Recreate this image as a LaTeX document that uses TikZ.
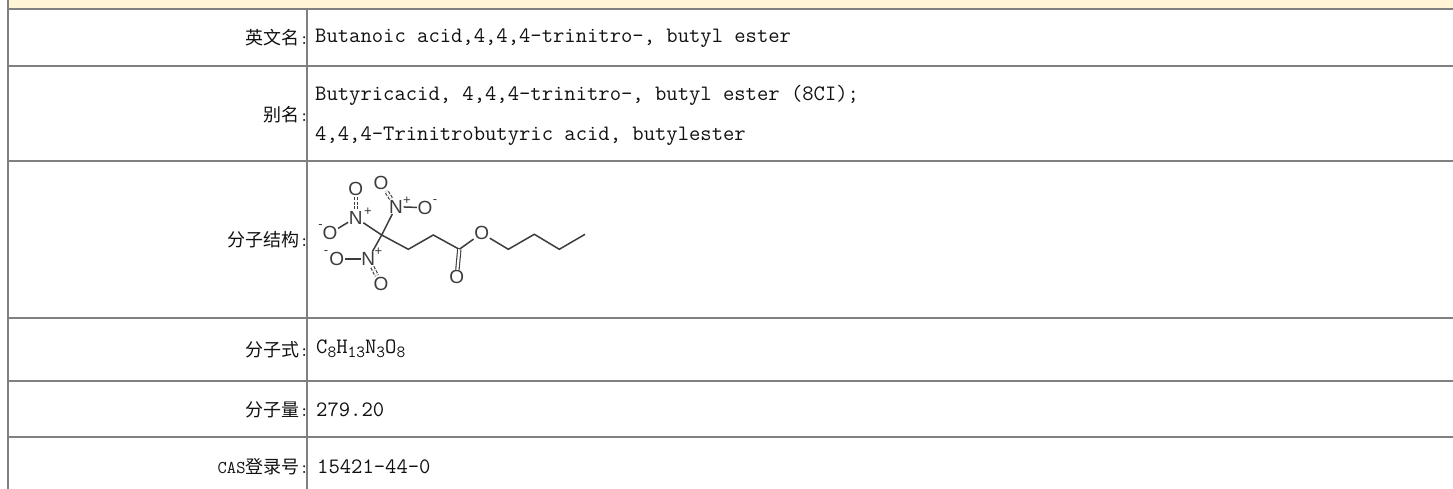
\documentclass[tikz,border=0pt]{standalone}
\usepackage{fontspec}
\setmonofont{Latin Modern Mono}
\setsansfont{Liberation Sans}
\newfontfamily\cjk{Noto Sans CJK SC}
\newcommand{\sbs}[1]{\raisebox{-4pt}{\fontsize{17}{16}\selectfont #1}}
\newcommand{\labtt}[1]{{\ttfamily #1}}
\definecolor{tablegrey}{HTML}{808080}
\definecolor{headfill}{HTML}{FFF4D6}
\definecolor{inkc}{HTML}{111111}
\definecolor{molc}{HTML}{3C3C3C}
\tikzset{
  gridline/.style={draw=tablegrey,line width=2pt},
  lab/.style={anchor=east,inner sep=0pt,font=\fontsize{18}{20}\selectfont\cjk,text=inkc},
  val/.style={anchor=west,inner sep=0pt,font=\fontsize{22}{24}\selectfont\ttfamily,text=inkc},
  atom/.style={inner sep=0.5pt,font=\fontsize{19}{19}\selectfont\sffamily,text=molc},
  chg/.style={inner sep=0pt,font=\fontsize{13}{13}\selectfont\sffamily,text=molc},
  joint/.style={inner sep=0pt,minimum size=0pt},
  bond/.style={draw=molc,line width=1.5pt},
  dbl/.style={draw=molc,line width=1.1pt,double=white,double distance=2.2pt},
  dotbond/.style={draw=molc,line width=1.1pt,double=white,double distance=2.2pt,dash pattern=on 3pt off 1.5pt,shorten >=1pt,shorten <=1pt}
}
\begin{document}
\begin{tikzpicture}[x=1pt,y=-1pt]
\useasboundingbox (0,0) rectangle (1453,489);
\fill[headfill] (8,0) rectangle (1453,9.5);
\foreach \yy in {9.5,66.5,161,317.5,381,437}{\draw[gridline] (8,\yy) -- (1453,\yy);}
\draw[gridline] (8,0) -- (8,489);
\draw[gridline] (306.8,9.5) -- (306.8,489);
\node[lab] (l1) at (309,38) {英文名\labtt{:}};
\node[val] (v1) at (315,38) {Butanoic acid,4,4,4-trinitro-, butyl ester};
\node[lab] (l2) at (309,115) {别名\labtt{:}};
\node[val] (v2a) at (315,95) {Butyricacid, 4,4,4-trinitro-, butyl ester (8CI);};
\node[val] (v2b) at (315,136) {4,4,4-Trinitrobutyric acid, butylester};
\node[lab] (l3) at (309,240) {分子结构\labtt{:}};
\node[lab] (l4) at (309,350) {分子式\labtt{:}};
\node[val] (v4) at (316,349) {C\sbs{8}H\sbs{13}N\sbs{3}O\sbs{8}};
\node[lab] (l5) at (309,410) {分子量\labtt{:}};
\node[val] (v5) at (316,410) {279.20};
\node[lab] (l6) at (309,467) {\labtt{CAS}登录号\labtt{:}};
\node[val] (v6) at (317,467) {15421-44-0};
% molecule
\node[joint] (c1) at (381.7,235) {};
\node[joint] (c2) at (408.3,249.3) {};
\node[joint] (c3) at (433.3,235) {};
\node[joint] (c4) at (459.3,249.3) {};
\node[atom] (o1) at (481.7,233.3) {O};
\node[joint] (c5) at (508.3,249.3) {};
\node[joint] (c6) at (534.3,234.3) {};
\node[joint] (c7) at (559.3,249.3) {};
\node[joint] (c8) at (585,234.3) {};
\node[atom] (o2) at (456.7,277.3) {O};
\node[atom] (n1) at (355.7,217.7) {N};
\node[chg] (p1) at (368,211.5) {+};
\node[atom] (o3) at (355.7,189) {O};
\node[atom] (o4) at (330,233.3) {O};
\node[chg] (m4) at (320.5,227) {-};
\node[atom] (n2) at (396,206.7) {N};
\node[chg] (p2) at (407,201) {+};
\node[atom] (o5) at (381,182.7) {O};
\node[atom] (o6) at (425,207.7) {O};
\node[chg] (m6) at (435,202) {-};
\node[atom] (n3) at (368.3,259) {N};
\node[chg] (p3) at (378.5,252) {+};
\node[atom] (o7) at (336.7,259) {O};
\node[chg] (m7) at (326,253) {-};
\node[atom] (o8) at (381,284) {O};
\draw[bond] (c1.center) -- (c2.center) -- (c3.center) -- (c4.center) -- (o1);
\draw[bond] (o1) -- (c5.center) -- (c6.center) -- (c7.center) -- (c8.center);
\draw[dbl] (c4.center) -- (o2);
\draw[bond] (c1.center) -- (n1);
\draw[bond] (c1.center) -- (n2);
\draw[bond] (c1.center) -- (n3);
\draw[dotbond] (n1) -- (o3);
\draw[bond] (n1) -- (o4);
\draw[dotbond] (n2) -- (o5);
\draw[bond] (n2) -- (o6);
\draw[bond] (n3) -- (o7);
\draw[dotbond] (n3) -- (o8);
\end{tikzpicture}
\end{document}
